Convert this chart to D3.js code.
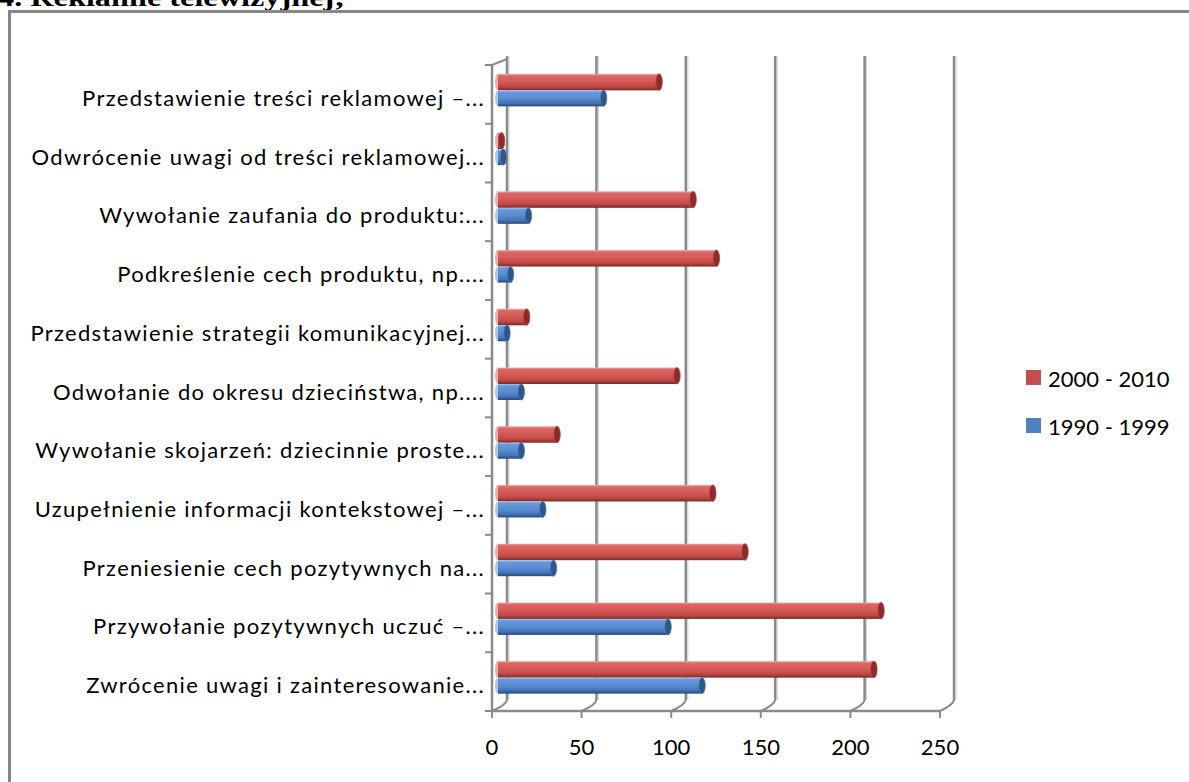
<!DOCTYPE html>
<html>
<head>
<meta charset="utf-8">
<script src="https://cdn.jsdelivr.net/npm/d3@7"></script>
<style>
  html, body { margin: 0; padding: 0; background: #fff; }
  svg { display: block; }
</style>
</head>
<body>
<svg id="chart" width="1189" height="782"></svg>
<script>
// Categories listed from the top of the chart to the bottom
const categories = [
  "Przedstawienie treści reklamowej –...",
  "Odwrócenie uwagi od treści reklamowej...",
  "Wywołanie zaufania do produktu:...",
  "Podkreślenie cech produktu, np....",
  "Przedstawienie strategii komunikacyjnej...",
  "Odwołanie do okresu dzieciństwa, np....",
  "Wywołanie skojarzeń: dziecinnie proste...",
  "Uzupełnienie informacji kontekstowej –...",
  "Przeniesienie cech pozytywnych na...",
  "Przywołanie pozytywnych uczuć –...",
  "Zwrócenie uwagi i zainteresowanie..."
];
const values2000 = [90, 2, 109, 122, 16, 100, 33, 120, 138, 214, 210];
const values1990 = [59, 3, 17, 7, 5, 13, 13, 25, 31, 95, 114];
const seriesNames = ["2000 - 2010", "1990 - 1999"];
const xTickValues = [0, 50, 100, 150, 200, 250];
const headerText = "4. Reklamie telewizyjnej;";

const svg = d3.select("#chart");
const FONT = "Lato, 'Open Sans', sans-serif";
const GRID = "#8a8a8a";

// Document heading, clipped by the top of the page
svg.append("text")
  .attr("x", -2).attr("y", 6)
  .attr("textLength", 347).attr("lengthAdjust", "spacingAndGlyphs")
  .style("font-family", "'Liberation Serif', 'DejaVu Serif', serif")
  .style("font-weight", "bold").style("font-size", "25px")
  .text(headerText);

// Outer frame of the chart object
svg.append("path")
  .attr("d", "M9.5,800 L9.5,11.5 L1200,11.5")
  .attr("fill", "none").attr("stroke", "#878787").attr("stroke-width", 3);

// Scales: front edge of the floor, back wall, and bars in between
const xFront = d3.scaleLinear().domain([0, 250]).range([492, 940]);
const xBack = d3.scaleLinear().domain([0, 250]).range([507, 954]);
const xBar = d3.scaleLinear().domain([0, 250]).range([498, 945.5]);
const y = d3.scaleBand().domain(categories).range([65, 711]);

const wallTop = 56, floorBack = 700, floorFront = 711;

// Back-wall gridlines with their floor diagonals
const grid = svg.append("g");
xTickValues.forEach(v => {
  const xb = xBack(v), xf = xFront(v);
  grid.append("line")
    .attr("x1", xb + 2).attr("x2", xb + 2).attr("y1", wallTop).attr("y2", floorBack)
    .attr("stroke", "#d6d6d6").attr("stroke-width", 1.2);
  grid.append("line")
    .attr("x1", xb).attr("x2", xb).attr("y1", wallTop).attr("y2", floorBack)
    .attr("stroke", GRID).attr("stroke-width", 2.5);
  grid.append("path")
    .attr("d", `M${xb},${floorBack} Q${xb - 1},${floorBack + 5} ${xf},${floorFront}`)
    .attr("fill", "none").attr("stroke", GRID).attr("stroke-width", 2);
});

// Left wall top edge
svg.append("line")
  .attr("x1", xFront(0)).attr("y1", y.range()[0]).attr("x2", xBack(0)).attr("y2", wallTop + 3)
  .attr("stroke", GRID).attr("stroke-width", 2);

// Gradients for the cylinders
const defs = svg.append("defs");
function cylGrad(id, stops) {
  const g = defs.append("linearGradient").attr("id", id)
    .attr("x1", 0).attr("y1", 0).attr("x2", 0).attr("y2", 1);
  stops.forEach(([o, c]) => g.append("stop").attr("offset", o).attr("stop-color", c));
}
cylGrad("gRed", [[0, "#eab2b0"], [0.12, "#dc6764"], [0.45, "#d65b58"], [0.78, "#bf4845"], [1, "#7c2826"]]);
cylGrad("gBlue", [[0, "#a9c6ee"], [0.12, "#6598db"], [0.45, "#5a8ed4"], [0.78, "#4576b8"], [1, "#27497a"]]);

const series = [
  { name: seriesNames[0], values: values2000, grad: "url(#gRed)", cap: "#8a2c2a", capEdge: "#b54340", base: "#C0504D", off: -16.5, h: 16.5 },
  { name: seriesNames[1], values: values1990, grad: "url(#gBlue)", cap: "#2e5689", capEdge: "#4a78b3", base: "#4F81BD", off: 0, h: 16 }
];

const bars = svg.append("g");
series.forEach(s => {
  const g = bars.append("g");
  categories.forEach((c, i) => {
    const v = s.values[i];
    const mid = y(c) + y.bandwidth() / 2 - 4;
    const y0 = mid + s.off, h = s.h;
    const x0 = xBar(0), x1 = xBar(v);
    // faint base cap
    g.append("ellipse")
      .attr("cx", x0).attr("cy", y0 + h / 2).attr("rx", 3).attr("ry", h / 2)
      .attr("fill", s.base).attr("opacity", 0.45);
    g.append("rect")
      .attr("x", x0).attr("y", y0).attr("width", Math.max(0, x1 - x0)).attr("height", h)
      .attr("fill", s.grad);
    // end cap
    g.append("ellipse")
      .attr("cx", x1).attr("cy", y0 + h / 2).attr("rx", 3.2).attr("ry", h / 2)
      .attr("fill", s.cap).attr("stroke", s.capEdge).attr("stroke-width", 0.8);
  });
});

// Vertical category axis with tick marks at band edges
const axisY = svg.append("g");
axisY.append("line")
  .attr("x1", xFront(0)).attr("x2", xFront(0)).attr("y1", y.range()[0]).attr("y2", floorFront)
  .attr("stroke", GRID).attr("stroke-width", 2.5);
const edges = categories.map(c => y(c)).concat([y.range()[1]]);
edges.forEach(e => {
  axisY.append("line")
    .attr("x1", xFront(0) - 7).attr("x2", xFront(0)).attr("y1", e).attr("y2", e)
    .attr("stroke", GRID).attr("stroke-width", 2);
});

// Category labels
svg.append("g")
  .style("font-family", FONT).style("font-size", "22px").style("letter-spacing", "1.3px")
  .attr("fill", "#000")
  .selectAll("text").data(categories).join("text")
  .attr("x", 485)
  .attr("y", c => y(c) + y.bandwidth() / 2 + 3)
  .attr("text-anchor", "end")
  .attr("dominant-baseline", "central")
  .text(c => c);

// Horizontal value axis along the front floor edge
const axisX = svg.append("g");
axisX.append("line")
  .attr("x1", xFront(0) - 1).attr("x2", xFront(250) + 1).attr("y1", floorFront).attr("y2", floorFront)
  .attr("stroke", GRID).attr("stroke-width", 2.5);
axisX.selectAll("line.tick").data(xTickValues).join("line")
  .attr("class", "tick")
  .attr("x1", d => xFront(d)).attr("x2", d => xFront(d))
  .attr("y1", floorFront).attr("y2", floorFront + 7)
  .attr("stroke", GRID).attr("stroke-width", 2);
axisX.selectAll("text").data(xTickValues).join("text")
  .attr("x", d => xFront(d))
  .attr("y", 746)
  .attr("text-anchor", "middle")
  .attr("dominant-baseline", "central")
  .style("font-family", FONT).style("font-size", "22px")
  .text(d => d);

// Legend
const legend = svg.append("g");
series.forEach((s, i) => {
  const ly = 370 + i * 48;
  legend.append("rect")
    .attr("x", 1026).attr("y", ly).attr("width", 15).attr("height", 15)
    .attr("fill", s.base);
  legend.append("text")
    .attr("x", 1048).attr("y", ly + 8)
    .attr("dominant-baseline", "central")
    .style("font-family", FONT).style("font-size", "22px")
    .text(s.name);
});
</script>
</body>
</html>
